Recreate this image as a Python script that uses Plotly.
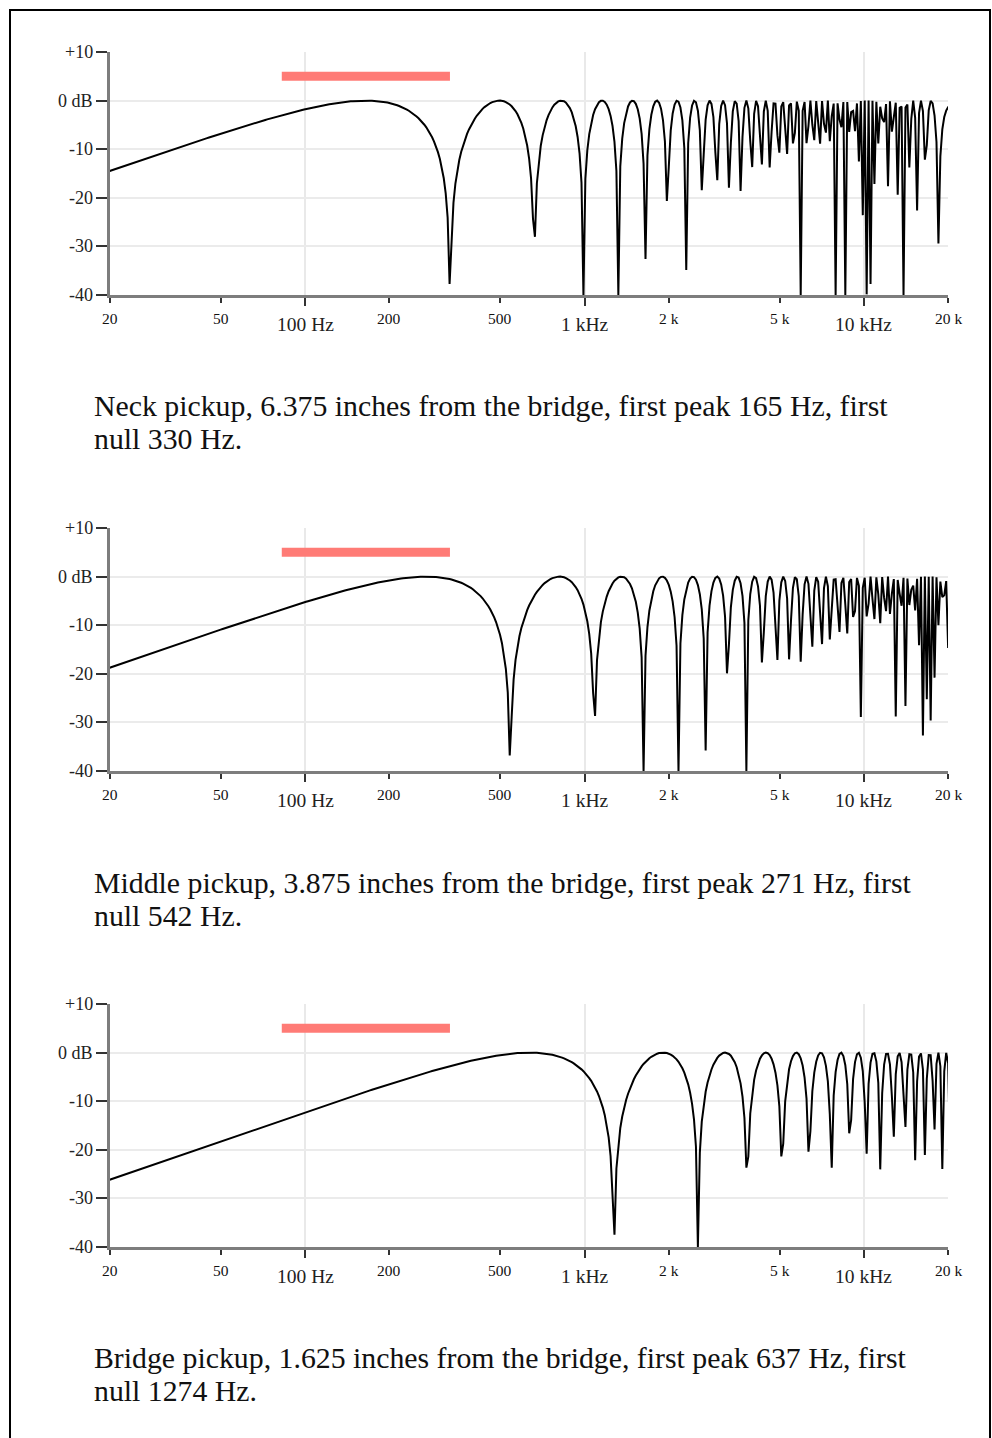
import numpy as np
import plotly.graph_objects as go

# ---------------- data ----------------
pickup_names = ["Neck", "Middle", "Bridge"]
distance_in = [6.375, 3.875, 1.625]
first_peak_hz = [165, 271, 637]
first_null_hz = [330, 542, 1274]

# depth (dB) of the nulls, by null number (1 = first null)
neck_null_number = [1, 2, 3, 4, 5, 6, 7, 8, 9, 10, 11, 18, 24, 26, 31, 42]
neck_null_depth_db = [-38, -28, -40, -39, -31, -21, -33.5, -18.5, -16, -18, -19,
                      -40, -40, -40, -40, -40]
middle_null_number = [1, 2, 3, 4, 5]
middle_null_depth_db = [-34.3, -31.3, -37.4, -35.8, -40]
bridge_null_number = [1, 2, 3, 4, 5, 6]
bridge_null_depth_db = [-37.3, -40, -24.6, -21.5, -23, -23.6]
null_numbers = [neck_null_number, middle_null_number, bridge_null_number]
null_depths_db = [neck_null_depth_db, middle_null_depth_db, bridge_null_depth_db]

guitar_range_hz = [82.41, 329.63]   # open low E to open high E
guitar_range_db = [5, 5]

y_tick_vals = [10, 0, -10, -20, -30, -40]
y_tick_text = ["+10", "0 dB", "-10", "-20", "-30", "-40"]
x_major_vals = [100, 1000, 10000]
x_major_text = ["100 Hz", "1 kHz", "10 kHz"]
x_minor_vals = [20, 50, 200, 500, 2000, 5000, 20000]
x_minor_text = ["20", "50", "200", "500", "2 k", "5 k", "20 k"]

F_MIN, F_MAX = 20, 20000
DB_MIN, DB_MAX = -40, 10


def response_db(f, null_hz):
    mag = np.abs(np.sin(np.pi * np.asarray(f) / null_hz))
    return np.clip(20 * np.log10(np.maximum(mag, 1e-12)), DB_MIN, DB_MAX)


# --- recover the log-frequency sampling grid of the original plot from the null depths
nf, npk, obs = [], [], []
for P, ks, depths in zip(first_null_hz, null_numbers, null_depths_db):
    for k, d in zip(ks, depths):
        nf.append(P * k)
        npk.append(P)
        obs.append(d)
nf = np.array(nf, float)[None, None, :]
npk = np.array(npk, float)[None, None, :]
obs = np.array(obs, float)[None, None, :]


def search(dens_vals, phi_vals):
    dens = dens_vals[:, None, None]
    phis = phi_vals[None, :, None]
    u = dens * np.log10(nf / F_MIN) - phis
    i0 = np.floor(u)
    v0 = response_db(F_MIN * 10 ** ((i0 + phis) / dens), npk)
    v1 = response_db(F_MIN * 10 ** ((i0 + 1 + phis) / dens), npk)
    pred = np.minimum(v0, v1)
    err = np.sum((pred - obs) ** 2, axis=2)
    a, b = np.unravel_index(np.argmin(err), err.shape)
    return float(dens_vals[a]), float(phi_vals[b])


DENS, PHI = search(np.arange(138.0, 156.0, 0.02), np.arange(0.0, 1.0, 0.005))
DENS, PHI = search(np.arange(DENS - 0.04, DENS + 0.04, 0.002),
                   np.arange(PHI - 0.02, PHI + 0.02, 0.0005))
idx = np.arange(-2, int(DENS * np.log10(F_MAX / F_MIN)) + 3)
freqs = F_MIN * 10 ** ((idx + PHI) / DENS)

# ---------------- layout helpers ----------------
W, H = 992, 1438
PX_L, PX_R = 110, 948
PANEL_TOP = [52, 528, 1004]
PANEL_BOT = [295, 771, 1247]
CAPTION_L1 = [406, 882, 1357]
CAPTION_L2 = [439, 915, 1390]
SERIF = "Liberation Serif, Times New Roman, serif"


def py(p):
    return 1 - p / H


def px(p):
    return p / W


fig = go.Figure()
annotations = []

for i in range(3):
    sfx = "" if i == 0 else str(i + 1)
    xa = "x" + sfx
    ya = "y" + sfx
    db = response_db(freqs, first_null_hz[i])

    fig.add_trace(go.Scatter(
        x=guitar_range_hz, y=guitar_range_db, mode="lines",
        line=dict(color="#ff7b76", width=9), xaxis=xa, yaxis=ya,
        hoverinfo="skip", showlegend=False))
    fig.add_trace(go.Scatter(
        x=freqs, y=db, mode="lines",
        line=dict(color="#000000", width=2), xaxis=xa, yaxis=ya,
        hoverinfo="skip", showlegend=False))

    xdom = [px(PX_L), px(PX_R)]
    ydom = [py(PANEL_BOT[i]), py(PANEL_TOP[i])]
    fig.layout["xaxis" + sfx] = dict(
        type="log", domain=xdom, anchor=ya,
        range=[np.log10(F_MIN), np.log10(F_MAX)],
        tickmode="array", tickvals=x_major_vals, showticklabels=False,
        ticks="outside", ticklen=8, tickwidth=2, tickcolor="#333333",
        showgrid=True, gridcolor="#e9e9e9", gridwidth=2,
        showline=True, linecolor="#7d7d7d", linewidth=3,
        zeroline=False, fixedrange=True,
        minor=dict(tickmode="array", tickvals=x_minor_vals, ticks="outside",
                   ticklen=5, tickwidth=2, tickcolor="#333333", showgrid=False),
    )
    fig.layout["yaxis" + sfx] = dict(
        domain=ydom, anchor=xa, range=[DB_MIN, DB_MAX],
        tickmode="array", tickvals=y_tick_vals, showticklabels=False,
        ticks="outside", ticklen=11, tickwidth=2, tickcolor="#333333",
        showgrid=True, gridcolor="#ebebeb", gridwidth=2,
        showline=True, linecolor="#7d7d7d", linewidth=3,
        zeroline=False, fixedrange=True,
    )

    # y tick labels
    for v, t in zip(y_tick_vals, y_tick_text):
        ypix = PANEL_TOP[i] + (DB_MAX - v) / (DB_MAX - DB_MIN) * (PANEL_BOT[i] - PANEL_TOP[i])
        annotations.append(dict(
            xref="paper", yref="paper", x=px(95), y=py(ypix),
            xanchor="right", yanchor="middle", text=t, showarrow=False,
            font=dict(family=SERIF, size=18, color="#222222")))
    # x tick labels
    for v, t in zip(x_minor_vals, x_minor_text):
        annotations.append(dict(
            xref=xa, yref="paper", x=np.log10(v), y=py(PANEL_BOT[i] + 23),
            xanchor="center", yanchor="middle", text=t, showarrow=False,
            font=dict(family=SERIF, size=15.5, color="#111111")))
    for v, t in zip(x_major_vals, x_major_text):
        annotations.append(dict(
            xref=xa, yref="paper", x=np.log10(v), y=py(PANEL_BOT[i] + 29),
            xanchor="center", yanchor="middle", text=t, showarrow=False,
            font=dict(family=SERIF, size=19.5, color="#222222")))
    # caption (two lines)
    line1 = (f"{pickup_names[i]} pickup, {distance_in[i]} inches from the bridge, "
             f"first peak {first_peak_hz[i]} Hz, first")
    line2 = f"null {first_null_hz[i]} Hz."
    for txt, ypix in ((line1, CAPTION_L1[i]), (line2, CAPTION_L2[i])):
        annotations.append(dict(
            xref="paper", yref="paper", x=px(92), y=py(ypix),
            xanchor="left", yanchor="middle", align="left", text=txt,
            showarrow=False, font=dict(family=SERIF, size=29.8, color="#111111")))

fig.update_layout(
    width=W, height=H, margin=dict(l=0, r=0, t=0, b=0),
    paper_bgcolor="white", plot_bgcolor="white",
    showlegend=False, annotations=annotations,
    shapes=[dict(type="rect", xref="paper", yref="paper",
                 x0=px(10), x1=px(990), y0=-0.2, y1=py(10),
                 line=dict(color="black", width=2), fillcolor="rgba(0,0,0,0)")],
)

fig.write_html(
    "out.html",
    config={"displayModeBar": False, "staticPlot": True},
    post_script="document.body.style.margin='0';document.body.style.padding='0';"
                "document.body.style.overflow='hidden';",
)
